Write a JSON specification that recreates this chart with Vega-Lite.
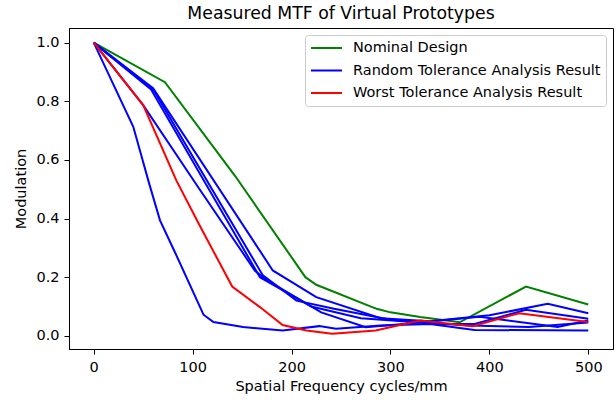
{
  "$schema": "https://vega.github.io/schema/vega-lite/v6.json",
  "width": 544,
  "height": 321,
  "autosize": "none",
  "padding": {"left": 69, "top": 28, "right": 3, "bottom": 51},
  "title": {"text": "Measured MTF of Virtual Prototypes", "font": "DejaVu Sans", "fontSize": 17.3, "fontWeight": "normal", "color": "#000000", "offset": 6},
  "config": {
    "view": {"stroke": "#000000", "strokeWidth": 1},
    "axis": {"labelFont": "DejaVu Sans", "titleFont": "DejaVu Sans", "labelFontSize": 14.5, "titleFontSize": 14.5, "titleFontWeight": "normal", "labelColor": "#000000", "titleColor": "#000000", "domainColor": "#000000", "tickColor": "#000000", "grid": false, "tickSize": 5, "labelPadding": 5}
  },
  "data": {"values": [
    {"s": "N", "g": "Nominal Design", "x": 0, "y": 1.0},
    {"s": "N", "g": "Nominal Design", "x": 72, "y": 0.865},
    {"s": "N", "g": "Nominal Design", "x": 143, "y": 0.545},
    {"s": "N", "g": "Nominal Design", "x": 214, "y": 0.2},
    {"s": "N", "g": "Nominal Design", "x": 225, "y": 0.174},
    {"s": "N", "g": "Nominal Design", "x": 286, "y": 0.092},
    {"s": "N", "g": "Nominal Design", "x": 300, "y": 0.08},
    {"s": "N", "g": "Nominal Design", "x": 330, "y": 0.064},
    {"s": "N", "g": "Nominal Design", "x": 370, "y": 0.046},
    {"s": "N", "g": "Nominal Design", "x": 437, "y": 0.168},
    {"s": "N", "g": "Nominal Design", "x": 500, "y": 0.107},

    {"s": "B1", "g": "Random Tolerance Analysis Result", "x": 0, "y": 1.0},
    {"s": "B1", "g": "Random Tolerance Analysis Result", "x": 40, "y": 0.713},
    {"s": "B1", "g": "Random Tolerance Analysis Result", "x": 56, "y": 0.52},
    {"s": "B1", "g": "Random Tolerance Analysis Result", "x": 67, "y": 0.394},
    {"s": "B1", "g": "Random Tolerance Analysis Result", "x": 82, "y": 0.286},
    {"s": "B1", "g": "Random Tolerance Analysis Result", "x": 111, "y": 0.072},
    {"s": "B1", "g": "Random Tolerance Analysis Result", "x": 121, "y": 0.047},
    {"s": "B1", "g": "Random Tolerance Analysis Result", "x": 151, "y": 0.03},
    {"s": "B1", "g": "Random Tolerance Analysis Result", "x": 191, "y": 0.018},
    {"s": "B1", "g": "Random Tolerance Analysis Result", "x": 228, "y": 0.033},
    {"s": "B1", "g": "Random Tolerance Analysis Result", "x": 245, "y": 0.024},
    {"s": "B1", "g": "Random Tolerance Analysis Result", "x": 290, "y": 0.035},
    {"s": "B1", "g": "Random Tolerance Analysis Result", "x": 340, "y": 0.04},
    {"s": "B1", "g": "Random Tolerance Analysis Result", "x": 385, "y": 0.02},
    {"s": "B1", "g": "Random Tolerance Analysis Result", "x": 500, "y": 0.018},

    {"s": "B2", "g": "Random Tolerance Analysis Result", "x": 0, "y": 1.0},
    {"s": "B2", "g": "Random Tolerance Analysis Result", "x": 50, "y": 0.787},
    {"s": "B2", "g": "Random Tolerance Analysis Result", "x": 107, "y": 0.5},
    {"s": "B2", "g": "Random Tolerance Analysis Result", "x": 163, "y": 0.222},
    {"s": "B2", "g": "Random Tolerance Analysis Result", "x": 175, "y": 0.19},
    {"s": "B2", "g": "Random Tolerance Analysis Result", "x": 230, "y": 0.08},
    {"s": "B2", "g": "Random Tolerance Analysis Result", "x": 275, "y": 0.029},
    {"s": "B2", "g": "Random Tolerance Analysis Result", "x": 330, "y": 0.045},
    {"s": "B2", "g": "Random Tolerance Analysis Result", "x": 390, "y": 0.065},
    {"s": "B2", "g": "Random Tolerance Analysis Result", "x": 469, "y": 0.03},
    {"s": "B2", "g": "Random Tolerance Analysis Result", "x": 500, "y": 0.052},

    {"s": "B3", "g": "Random Tolerance Analysis Result", "x": 0, "y": 1.0},
    {"s": "B3", "g": "Random Tolerance Analysis Result", "x": 60, "y": 0.845},
    {"s": "B3", "g": "Random Tolerance Analysis Result", "x": 181, "y": 0.223},
    {"s": "B3", "g": "Random Tolerance Analysis Result", "x": 225, "y": 0.132},
    {"s": "B3", "g": "Random Tolerance Analysis Result", "x": 290, "y": 0.06},
    {"s": "B3", "g": "Random Tolerance Analysis Result", "x": 340, "y": 0.05},
    {"s": "B3", "g": "Random Tolerance Analysis Result", "x": 400, "y": 0.07},
    {"s": "B3", "g": "Random Tolerance Analysis Result", "x": 459, "y": 0.109},
    {"s": "B3", "g": "Random Tolerance Analysis Result", "x": 500, "y": 0.077},

    {"s": "B4", "g": "Random Tolerance Analysis Result", "x": 0, "y": 1.0},
    {"s": "B4", "g": "Random Tolerance Analysis Result", "x": 61, "y": 0.835},
    {"s": "B4", "g": "Random Tolerance Analysis Result", "x": 171, "y": 0.206},
    {"s": "B4", "g": "Random Tolerance Analysis Result", "x": 205, "y": 0.12},
    {"s": "B4", "g": "Random Tolerance Analysis Result", "x": 243, "y": 0.092},
    {"s": "B4", "g": "Random Tolerance Analysis Result", "x": 300, "y": 0.055},
    {"s": "B4", "g": "Random Tolerance Analysis Result", "x": 350, "y": 0.04},
    {"s": "B4", "g": "Random Tolerance Analysis Result", "x": 385, "y": 0.04},
    {"s": "B4", "g": "Random Tolerance Analysis Result", "x": 437, "y": 0.089},
    {"s": "B4", "g": "Random Tolerance Analysis Result", "x": 500, "y": 0.058},

    {"s": "B5", "g": "Random Tolerance Analysis Result", "x": 0, "y": 1.0},
    {"s": "B5", "g": "Random Tolerance Analysis Result", "x": 58, "y": 0.84},
    {"s": "B5", "g": "Random Tolerance Analysis Result", "x": 168, "y": 0.2},
    {"s": "B5", "g": "Random Tolerance Analysis Result", "x": 220, "y": 0.1},
    {"s": "B5", "g": "Random Tolerance Analysis Result", "x": 270, "y": 0.06},
    {"s": "B5", "g": "Random Tolerance Analysis Result", "x": 330, "y": 0.045},
    {"s": "B5", "g": "Random Tolerance Analysis Result", "x": 380, "y": 0.035},
    {"s": "B5", "g": "Random Tolerance Analysis Result", "x": 440, "y": 0.03},
    {"s": "B5", "g": "Random Tolerance Analysis Result", "x": 500, "y": 0.045},

    {"s": "W", "g": "Worst Tolerance Analysis Result", "x": 0, "y": 1.0},
    {"s": "W", "g": "Worst Tolerance Analysis Result", "x": 50, "y": 0.787},
    {"s": "W", "g": "Worst Tolerance Analysis Result", "x": 83.5, "y": 0.53},
    {"s": "W", "g": "Worst Tolerance Analysis Result", "x": 107, "y": 0.377},
    {"s": "W", "g": "Worst Tolerance Analysis Result", "x": 140, "y": 0.168},
    {"s": "W", "g": "Worst Tolerance Analysis Result", "x": 168, "y": 0.098},
    {"s": "W", "g": "Worst Tolerance Analysis Result", "x": 191, "y": 0.037},
    {"s": "W", "g": "Worst Tolerance Analysis Result", "x": 215, "y": 0.018},
    {"s": "W", "g": "Worst Tolerance Analysis Result", "x": 241, "y": 0.007},
    {"s": "W", "g": "Worst Tolerance Analysis Result", "x": 285, "y": 0.018},
    {"s": "W", "g": "Worst Tolerance Analysis Result", "x": 330, "y": 0.052},
    {"s": "W", "g": "Worst Tolerance Analysis Result", "x": 383, "y": 0.033},
    {"s": "W", "g": "Worst Tolerance Analysis Result", "x": 430, "y": 0.077},
    {"s": "W", "g": "Worst Tolerance Analysis Result", "x": 500, "y": 0.047}
  ]},
  "mark": {"type": "line", "strokeWidth": 2, "clip": true},
  "encoding": {
    "x": {"field": "x", "type": "quantitative", "scale": {"domain": [-25, 525], "nice": false, "zero": false},
          "axis": {"values": [0, 100, 200, 300, 400, 500], "title": "Spatial Frequency cycles/mm", "labelPadding": 6, "titlePadding": 6}},
    "y": {"field": "y", "type": "quantitative", "scale": {"domain": [-0.045, 1.05], "nice": false, "zero": false},
          "axis": {"values": [0, 0.2, 0.4, 0.6, 0.8, 1.0], "format": ".1f", "title": "Modulation", "titlePadding": 7}},
    "detail": {"field": "s"},
    "order": {"field": "x", "type": "quantitative"},
    "color": {"field": "g", "type": "nominal",
      "scale": {"domain": ["Nominal Design", "Random Tolerance Analysis Result", "Worst Tolerance Analysis Result"], "range": ["#008000", "#0000ff", "#ff0000"]},
      "legend": {"title": null, "orient": "top-right", "offset": 7, "symbolType": "stroke", "symbolStrokeWidth": 2, "symbolSize": 961, "clipHeight": 16, "rowPadding": 6.5, "labelFont": "DejaVu Sans", "labelFontSize": 14.5, "labelColor": "#000000", "labelOffset": 10, "labelLimit": 400, "strokeColor": "#cccccc", "fillColor": "#ffffff", "cornerRadius": 3, "padding": 5}}
  }
}
